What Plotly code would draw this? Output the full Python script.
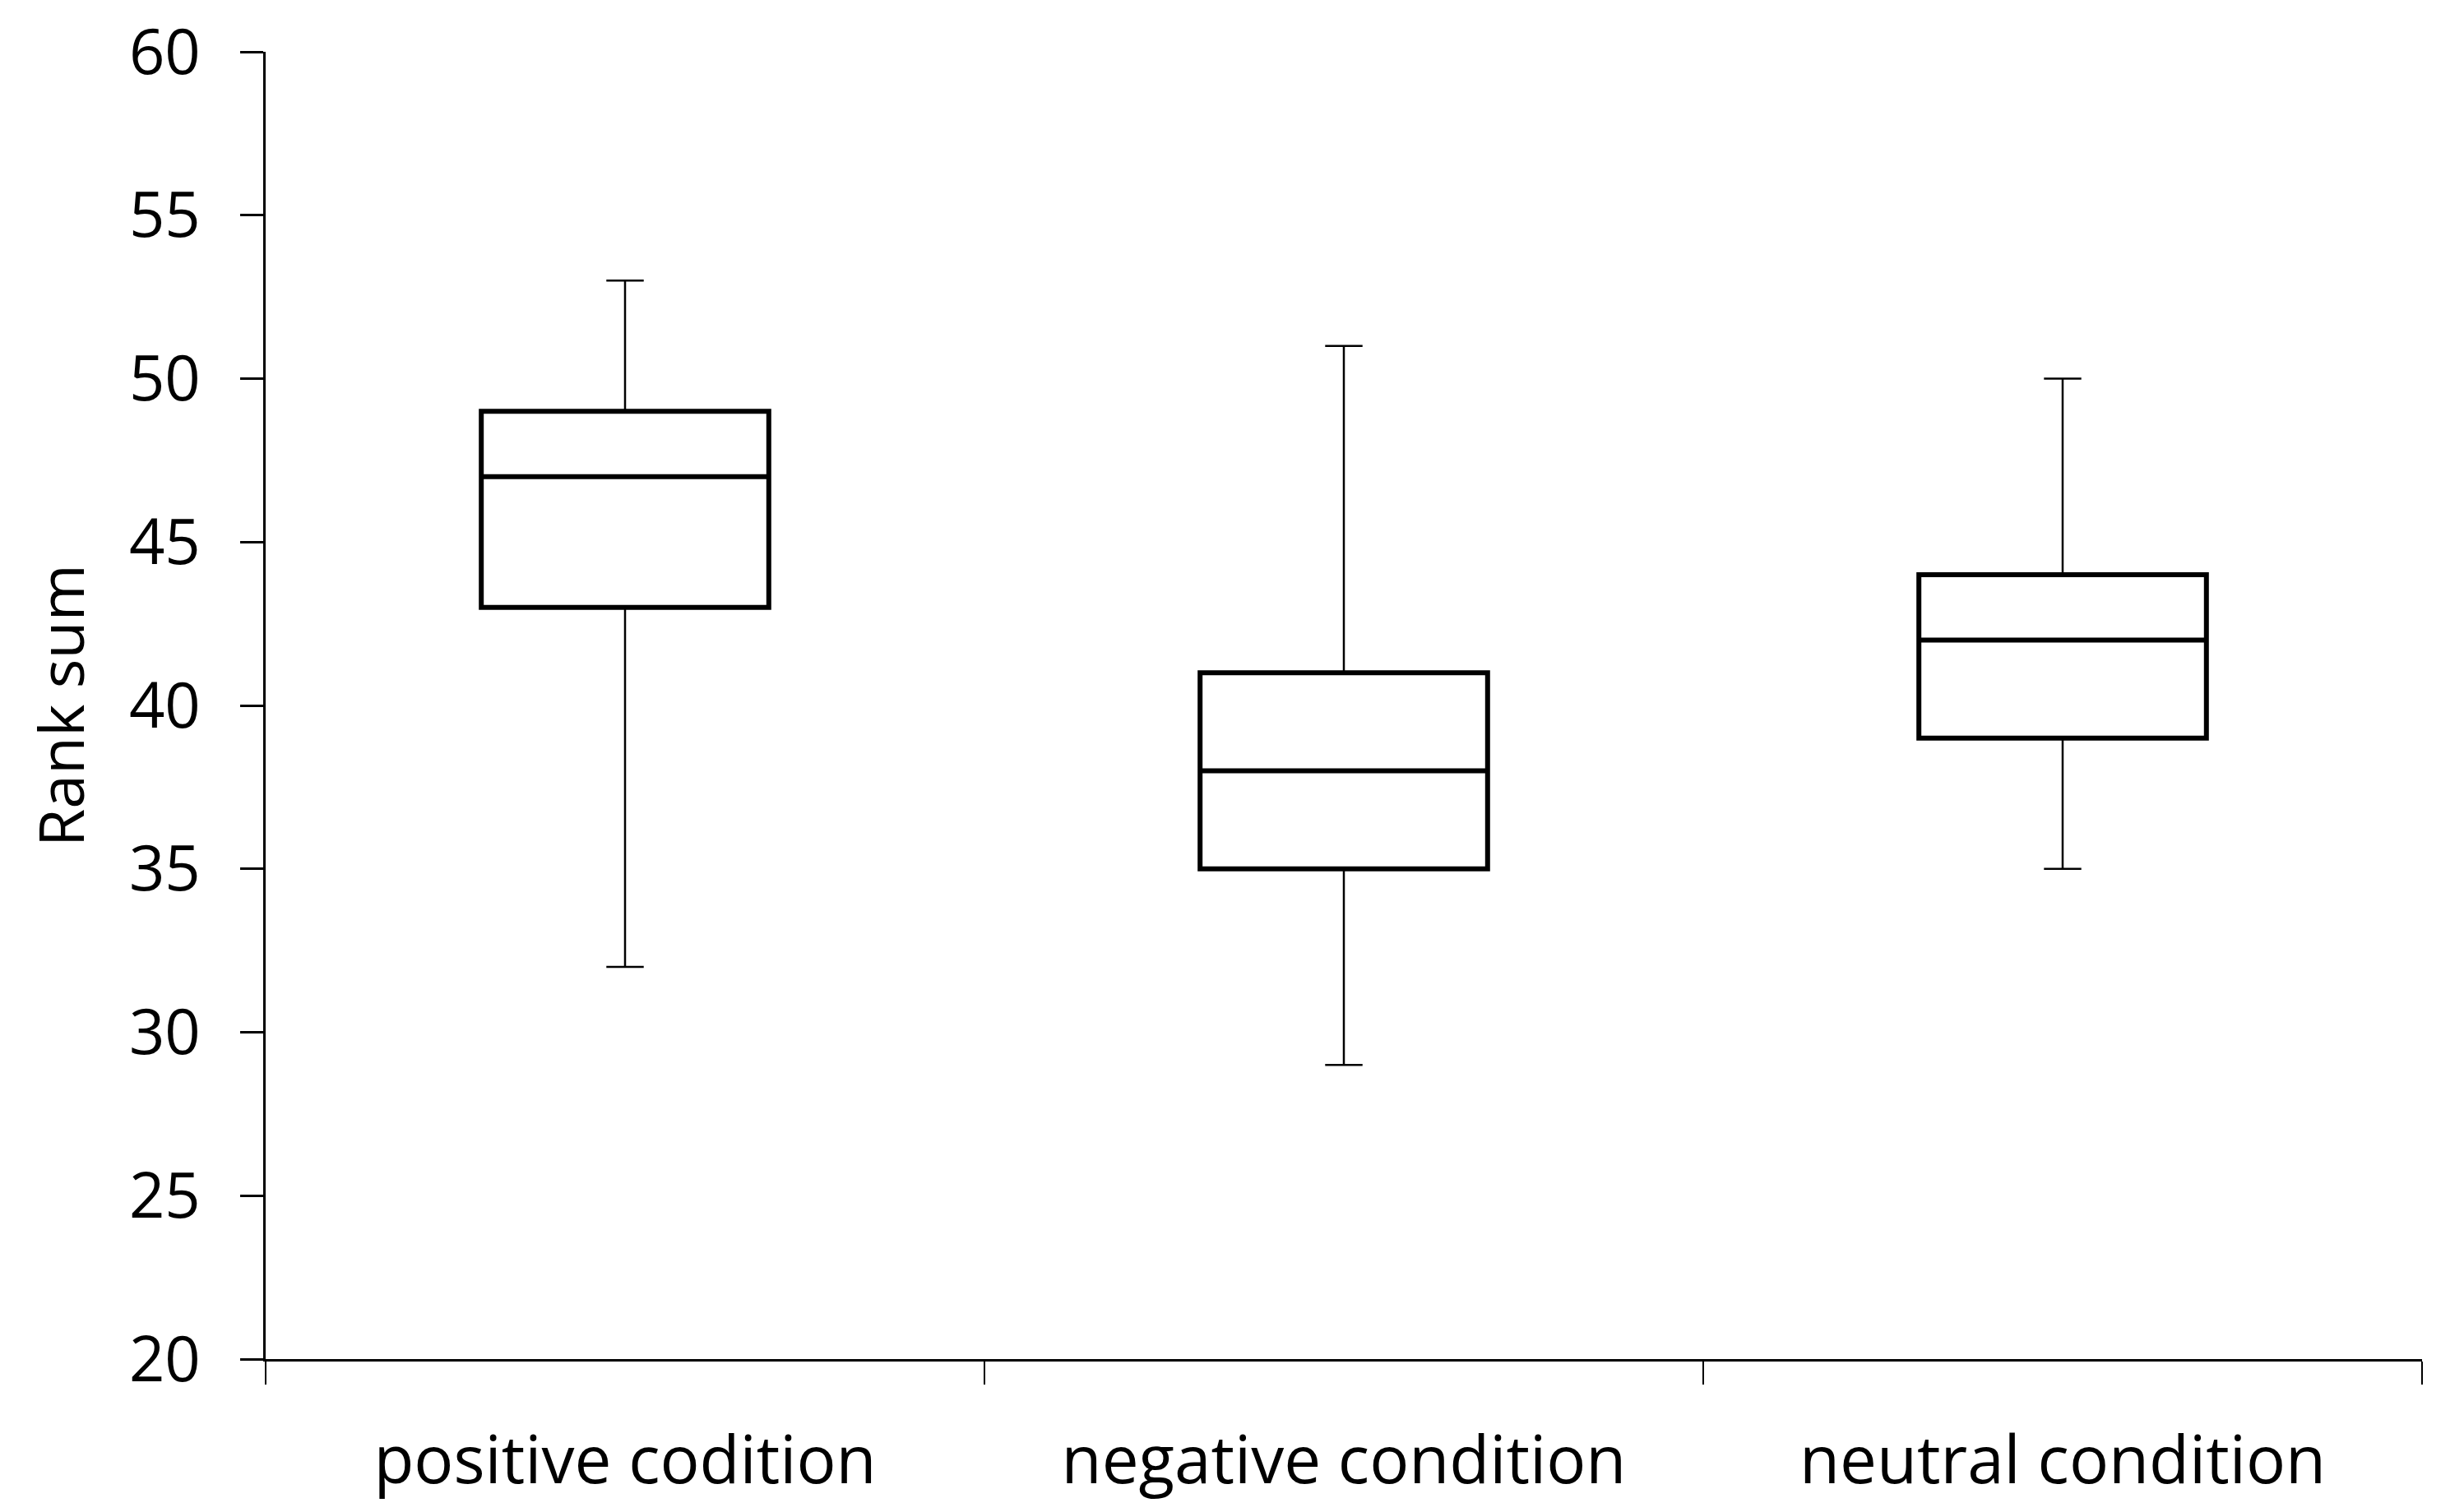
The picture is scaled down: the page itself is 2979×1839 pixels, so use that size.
import plotly.graph_objects as go

categories = ["positive codition", "negative condition", "neutral condition"]
lower_whisker = [32, 29, 35]
q1 = [43, 35, 39]
median = [47, 38, 42]
q3 = [49, 41, 44]
upper_whisker = [53, 51, 50]

y_ticks = [20, 25, 30, 35, 40, 45, 50, 55, 60]

fig = go.Figure()
# whiskers + thin outline
fig.add_trace(go.Box(
    x=categories, q1=q1, median=median, q3=q3,
    lowerfence=lower_whisker, upperfence=upper_whisker,
    fillcolor="white", line=dict(color="black", width=2.5),
    whiskerwidth=0.13, width=0.4, boxpoints=False, showlegend=False,
    hoverinfo="skip",
))
# thicker box on top
fig.add_trace(go.Box(
    x=categories, q1=q1, median=median, q3=q3,
    lowerfence=q1, upperfence=q3,
    fillcolor="white", line=dict(color="black", width=6),
    whiskerwidth=0, width=0.4, boxpoints=False, showlegend=False,
    hoverinfo="skip",
))

font = "Open Sans, Noto Sans, sans-serif"
fig.update_layout(
    width=2979, height=1839,
    margin=dict(l=323, r=34, t=63, b=186),
    plot_bgcolor="white", paper_bgcolor="white",
    boxmode="overlay",
    font=dict(family=font, color="black"),
)
fig.update_xaxes(
    type="category", range=[-0.5, 2.5], automargin=False,
    showline=True, linecolor="black", linewidth=3,
    ticks="outside", tickson="boundaries", ticklen=28, tickwidth=2, tickcolor="black",
    tickfont=dict(size=80, family=font), ticklabelstandoff=52,
    showgrid=False, zeroline=False,
)
fig.update_yaxes(
    range=[20, 60], tickvals=y_ticks, automargin=False,
    showline=True, linecolor="black", linewidth=3,
    ticks="outside", ticklen=28, tickwidth=3, tickcolor="black",
    tickfont=dict(size=76, family=font), ticklabelstandoff=33,
    showgrid=False, zeroline=False,
    title=dict(text="Rank sum", font=dict(size=75, family=font), standoff=30),
)

fig.write_html(
    "out.html",
    config={"displayModeBar": False},
    post_script="document.body.style.margin='0';document.body.style.overflow='hidden';",
)
